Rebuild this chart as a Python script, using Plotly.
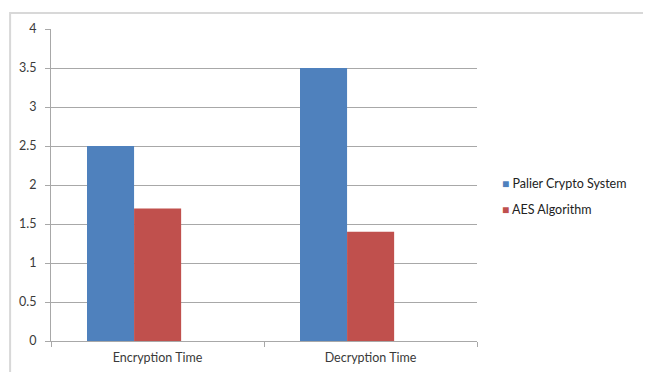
import plotly.graph_objects as go

categories = ["Encryption Time", "Decryption Time"]
palier = [2.5, 3.5]
aes = [1.7, 1.4]
series_names = ["Palier Crypto System", "AES Algorithm"]
series_colors = ["#4F81BD", "#C0504D"]
y_ticks = [0, 0.5, 1, 1.5, 2, 2.5, 3, 3.5, 4]
y_tick_text = ["0", "0.5", "1", "1.5", "2", "2.5", "3", "3.5", "4"]

FONT = "Lato, Open Sans, Liberation Sans, sans-serif"
TXT = "#3a3a3a"
GRID = "#a8a8a8"

fig = go.Figure()
fig.add_bar(x=categories, y=palier, name=series_names[0], marker_color=series_colors[0],
            marker_line_width=0, width=0.221, offset=-0.331, showlegend=False)
fig.add_bar(x=categories, y=aes, name=series_names[1], marker_color=series_colors[1],
            marker_line_width=0, width=0.221, offset=-0.110, showlegend=False)

# page body has an 8px margin; compensate
fig.update_layout(
    width=643, height=364,
    margin=dict(l=43, r=174, t=21, b=31, autoexpand=False),
    paper_bgcolor="white", plot_bgcolor="white",
    barmode="overlay",
    font=dict(family=FONT, size=12, color=TXT),
    showlegend=False,
)
fig.update_yaxes(range=[0, 4], tickvals=y_ticks, ticktext=y_tick_text,
                 showgrid=True, gridcolor=GRID, gridwidth=1,
                 showline=True, linecolor=GRID, linewidth=1, automargin=False,
                 ticks="outside", ticklen=5, tickcolor=GRID, ticklabelstandoff=6,
                 zeroline=False, tickfont=dict(family=FONT, size=12.5, color=TXT))
fig.update_xaxes(showline=True, linecolor=GRID, linewidth=1, automargin=False,
                 ticks="outside", ticklen=5, tickcolor=GRID, ticklabelstandoff=5,
                 tickson="boundaries", showgrid=False,
                 tickfont=dict(family=FONT, size=12.5, color=TXT))
fig.add_shape(type="rect", xref="paper", yref="paper",
              x0=-0.096, x1=1.403, y0=-0.2, y1=1.051,
              line=dict(color="#d8d8d8", width=2), fillcolor="rgba(0,0,0,0)", layer="below")

leg_y = [0.506, 0.423]
for name, color, yy in zip(series_names, series_colors, leg_y):
    fig.add_annotation(xref="paper", yref="paper", x=1.054, y=yy,
                       xanchor="left", yanchor="middle", showarrow=False,
                       text=f"<span style='color:{color};font-size:12px'>■</span> {name}",
                       font=dict(family=FONT, size=12.5, color="#222222"))

fig.write_html("out.html")
